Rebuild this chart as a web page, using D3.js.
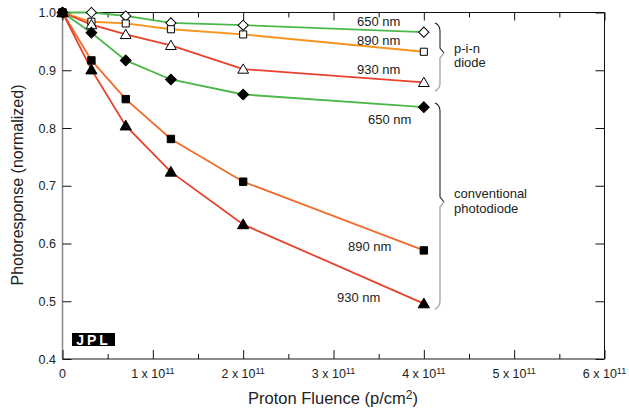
<!DOCTYPE html>
<html><head><meta charset="utf-8">
<script src="https://cdn.jsdelivr.net/npm/d3@7"></script>
<style>body{margin:0;background:#fff;} text{font-family:"Liberation Sans",Arial,sans-serif;fill:#222;}</style>
</head><body><svg id="c" width="629" height="408"></svg>
<script>
const fluence = [0, 0.32e11, 0.7e11, 1.2e11, 2e11, 4e11];
const pin650 = [1.0, 1.0, 0.994, 0.982, 0.978, 0.966];
const pin890 = [1.0, 0.984, 0.981, 0.971, 0.962, 0.932];
const pin930 = [1.0, 0.979, 0.962, 0.943, 0.902, 0.879];
const conv650 = [1.0, 0.965, 0.917, 0.884, 0.858, 0.836];
const conv890 = [1.0, 0.917, 0.850, 0.781, 0.707, 0.588];
const conv930 = [1.0, 0.901, 0.804, 0.724, 0.633, 0.496];
const seriesNames = ["pin650","pin890","pin930","conv650","conv890","conv930"];
const seriesLabels = ["650 nm","890 nm","930 nm","650 nm","890 nm","930 nm"];
const yTicks = [0.4,0.5,0.6,0.7,0.8,0.9,1.0];
const xTicks = [0,1e11,2e11,3e11,4e11,5e11,6e11];
const xMinor = [0.5e11,1.5e11,2.5e11,3.5e11,4.5e11,5.5e11];

const data = {pin650, pin890, pin930, conv650, conv890, conv930};
const styles = {
  pin650:{color:"#4cb848", sym:"diamond", fill:"#fff", size:52},
  pin890:{color:"#f7941d", sym:d3.symbolSquare, fill:"#fff", size:50},
  pin930:{color:"#e8412c", sym:d3.symbolTriangle, fill:"#fff", size:50},
  conv650:{color:"#4cb848", sym:"diamond", fill:"#000", size:58},
  conv890:{color:"#f26b2b", sym:d3.symbolSquare, fill:"#000", size:55},
  conv930:{color:"#e8412c", sym:d3.symbolTriangle, fill:"#000", size:55}
};
const labelPos = {pin650:[357,26],pin890:[357,45],pin930:[357,74],conv650:[368,124],conv890:[348,251],conv930:[337,302]};

const svg = d3.select("#c");
const L=62.5, R=604.5, T=12.5, B=359;
const x = d3.scaleLinear().domain([0,6e11]).range([L,R]);
const y = d3.scaleLinear().domain([0.4,1.0]).range([B,T]);

// frame
svg.append("line").attr("x1",L).attr("x2",R).attr("y1",T).attr("y2",T).attr("stroke","#111");
svg.append("line").attr("x1",R).attr("x2",R).attr("y1",T).attr("y2",B).attr("stroke","#111");
svg.append("line").attr("x1",L).attr("x2",L).attr("y1",T).attr("y2",B).attr("stroke","#888").attr("stroke-width",1.5);
svg.append("line").attr("x1",L).attr("x2",R).attr("y1",B).attr("y2",B).attr("stroke","#666").attr("stroke-width",1.5);

// axes via d3 (ticks inward)
const gB = svg.append("g").attr("transform",`translate(0,${B})`)
  .call(d3.axisTop(x).tickValues(xTicks).tickSize(9).tickFormat(""));
const gBm = svg.append("g").attr("transform",`translate(0,${B})`)
  .call(d3.axisTop(x).tickValues(xMinor).tickSize(5).tickFormat(""));
const gT = svg.append("g").attr("transform",`translate(0,${T})`)
  .call(d3.axisBottom(x).tickValues(xTicks).tickSize(8).tickFormat(""));
const gTm = svg.append("g").attr("transform",`translate(0,${T})`)
  .call(d3.axisBottom(x).tickValues(xMinor).tickSize(5).tickFormat(""));
const gL = svg.append("g").attr("transform",`translate(${L},0)`)
  .call(d3.axisRight(y).tickValues(yTicks).tickSize(9).tickFormat(""));
const gR = svg.append("g").attr("transform",`translate(${R},0)`)
  .call(d3.axisLeft(y).tickValues(yTicks).tickSize(9).tickFormat(""));
[gB,gBm,gT,gTm,gL,gR].forEach(g=>{g.select(".domain").remove(); g.selectAll("line").attr("stroke","#111");});

// y tick labels
svg.append("g").selectAll("text").data(yTicks).join("text")
  .attr("x",56).attr("y",d=>y(d)+4.5).attr("text-anchor","end").attr("font-size",12.5)
  .text(d=>d.toFixed(1));
// x tick labels
const xl = svg.append("g").selectAll("text").data(xTicks).join("text")
  .attr("x",d=>x(d)).attr("y",378).attr("text-anchor","middle").attr("font-size",12.5);
xl.each(function(d){
  const t=d3.select(this);
  if(d===0){t.text("0");return;}
  t.append("tspan").text((d/1e11)+" x 10");
  t.append("tspan").attr("font-size",9).attr("dy",-4).text("11");
});

// lines
const line = d3.line().x((d,i)=>x(fluence[i])).y(d=>y(d));
seriesNames.forEach(k=>{
  svg.append("path").attr("d",line(data[k])).attr("fill","none")
    .attr("stroke",styles[k].color).attr("stroke-width",1.8);
});
// markers
seriesNames.forEach(k=>{
  const st=styles[k];
  const isD = st.sym==="diamond";
  const sym=d3.symbol().type(isD?d3.symbolSquare:st.sym).size(st.size);
  svg.append("g").selectAll("path").data(data[k]).join("path")
    .attr("d",sym).attr("transform",(d,i)=>`translate(${x(fluence[i])},${y(d)+(st.sym===d3.symbolTriangle?1:0)})`+(isD?" rotate(45)":""))
    .attr("fill",st.fill).attr("stroke","#000").attr("stroke-width",1);
});
// series labels
seriesNames.forEach((k,i)=>{
  svg.append("text").attr("x",labelPos[k][0]).attr("y",labelPos[k][1]).attr("font-size",13).text(seriesLabels[i]);
});

// braces
function brace(y0,ym,y1){
  const xv=440, xe=435, xt=444;
  const top=`M${xe},${y0} Q${xv},${y0+2} ${xv},${y0+8} L${xv},${ym-5} L${xt},${ym}`;
  const bot=`M${xt},${ym} L${xv},${ym+5} L${xv},${y1-8} Q${xv},${y1-2} ${xe},${y1}`;
  svg.append("path").attr("d",top).attr("fill","none").attr("stroke","#222").attr("stroke-width",1.1);
  svg.append("path").attr("d",bot).attr("fill","none").attr("stroke","#aaa").attr("stroke-width",1.4);
}
brace(23,53,91);
brace(103,202,309);
svg.append("text").attr("x",454).attr("y",53).attr("font-size",13).text("p-i-n");
svg.append("text").attr("x",454).attr("y",67).attr("font-size",13).text("diode");
svg.append("text").attr("x",454).attr("y",198).attr("font-size",13).text("conventional");
svg.append("text").attr("x",454).attr("y",213).attr("font-size",13).text("photodiode");

// JPL logo
svg.append("rect").attr("x",72).attr("y",333).attr("width",43).attr("height",13).attr("fill","#000");
svg.append("text").attr("x",93.5).attr("y",345).attr("text-anchor","middle").attr("font-size",14)
  .attr("font-weight","bold").attr("letter-spacing",3).style("fill","#fff").text("JPL");

// axis titles
svg.append("text").attr("transform","translate(23,185) rotate(-90)").attr("text-anchor","middle")
  .attr("font-size",16).text("Photoresponse (normalized)");
const xt=svg.append("text").attr("x",333).attr("y",404).attr("text-anchor","middle").attr("font-size",16.5);
xt.append("tspan").text("Proton Fluence (p/cm");
xt.append("tspan").attr("font-size",12).attr("dy",-5).text("2");
xt.append("tspan").attr("dy",5).text(")");
</script></body></html>
